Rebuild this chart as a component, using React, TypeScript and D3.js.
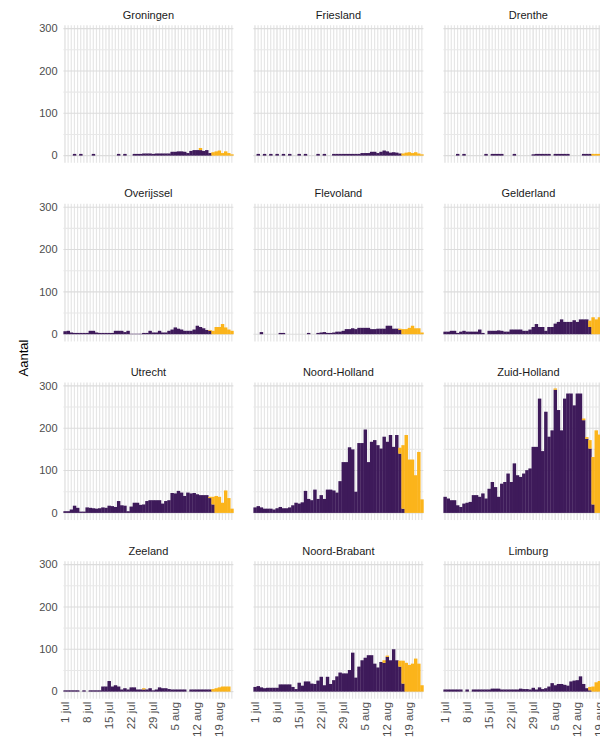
import React from 'react';
import * as d3 from 'd3';

// ---- data ----
const provinces = [
  'Groningen', 'Friesland', 'Drenthe',
  'Overijssel', 'Flevoland', 'Gelderland',
  'Utrecht', 'Noord-Holland', 'Zuid-Holland',
  'Zeeland', 'Noord-Brabant', 'Limburg',
];

const tickLabels = ['1 jul', '8 jul', '15 jul', '22 jul', '29 jul', '5 aug', '12 aug', '19 aug'];
const tickDays = [0, 7, 14, 21, 28, 35, 42, 49];
const yTicks = [0, 100, 200, 300];

const Z = (n: number) => new Array(n).fill(0);

const groningenP = [0,0,0,4,0,4,0,0,0,4, 0,0,0,0,0,0,0,4,0,4, 0,0,4,4,4,5,5,5,4,5, 5,5,5,5,9,9,10,10,9,6, 11,13,13,13,11,13,6,0,0,0, 0,0,0,0];
const groningenY = [...Z(43), 5,0,0,0, 8,10,12,6,10,6,3];

const frieslandP = [0,4,0,4,0,4,0,4,0,4, 0,4,0,0,4,0,4,0,0,0, 4,0,4,0,0,4,4,4,4,4, 4,4,4,4,6,6,6,9,9,6, 9,12,10,7,8,7,5,0,0,0, 0,0,0,0];
const frieslandY = [...Z(47), 5,7,8,6,8,5,3];

const drentheP = [0,0,0,0,4,0,4,0,0,0, 0,0,0,4,0,4,4,4,4,0, 0,0,4,0,0,0,0,0,3,4, 4,4,4,4,0,4,4,4,4,4, 0,0,0,0,4,4,4,0,0,0, 0,0,0,0];
const drentheY = [...Z(47), 4,4,4,4,4,4,4];

const overijsselP = [7,8,4,3,3,3,3,3,8,8, 4,3,3,3,3,3,8,8,8,5, 8,1,1,1,1,3,3,8,4,4, 8,4,4,8,11,16,13,11,8,8, 8,11,20,17,14,10,8,0,0,0, 0,0,0,0];
const overijsselY = [...Z(46), 2,8,17,17,24,16,11,8];

const flevolandP = [0,0,5,0,0,0,0,0,3,3, 0,0,0,0,0,0,0,3,0,0, 3,4,5,3,3,4,6,6,8,12, 12,14,12,15,15,15,15,12,12,13, 13,13,20,20,13,13,10,0,0,0, 0,0,0,0];
const flevolandY = [...Z(46), 3,12,12,15,20,14,14,4];

const gelderlandP = [6,6,8,8,3,6,8,6,6,6, 6,11,3,0,8,8,8,9,8,6, 6,11,11,11,11,8,8,11,17,24, 17,17,8,17,17,25,29,35,29,29, 29,33,29,35,35,35,17,0,0,0, 0,0,0,0];
const gelderlandY = [...Z(46), 15,40,35,40,30,25,30,15];

const utrechtP = [4,4,8,17,12,3,3,13,12,11, 10,11,13,12,17,16,14,28,18,17, 4,15,24,24,19,20,28,30,30,30, 30,22,28,30,47,46,52,48,40,48, 46,47,44,42,42,42,35,20,0,0, 0,0,0,0];
const utrechtY = [...Z(46), 3,18,40,38,24,53,35,10];

const noordHollandP = [13,16,13,10,10,10,8,11,14,11, 11,13,18,24,22,25,52,33,30,55, 33,42,33,55,55,53,48,75,120,120, 155,150,50,165,165,197,120,168,172,160, 152,180,168,184,156,184,140,10,0,0, 0,0,0,0];
const noordHollandY = [...Z(46), 14,150,184,126,126,89,144,32];

const zuidHollandP = [38,34,30,30,18,14,22,24,26,42, 42,38,46,34,57,73,61,38,69,73, 93,73,117,89,85,93,101,105,156,156, 270,146,239,180,195,291,243,195,270,282, 282,254,282,282,219,175,152,20,0,0, 0,0,0,0];
const zuidHollandY = [...Z(35), 3, ...Z(8), 4,4,20,112,195,185,150,120,100,40];

const zeelandP = [3,3,3,3,3,0,3,0,3,3, 3,3,12,12,25,12,15,12,5,8, 5,10,10,5,5,5,5,8,3,5, 10,8,8,6,5,5,5,5,5,0, 5,5,5,5,5,5,5,0,0,0, 0,0,0,0];
const zeelandY = [...Z(25), 3, ...Z(21), 6,8,10,12,12,12,0];

const noordBrabantP = [11,13,10,8,9,9,9,9,17,17, 17,17,11,6,21,14,24,24,19,18, 26,35,15,35,18,27,36,45,43,43, 51,92,33,59,74,80,86,86,66,57, 70,68,82,74,100,74,59,19,0,0, 0,0,0,0];
const noordBrabantY = [...Z(41), 6,3,0,0,0, 14,54,68,63,66,78,66,15];

const limburgP = [5,5,5,5,5,5,0,5,0,5, 5,5,5,5,5,7,7,7,5,5, 5,5,5,5,7,6,6,5,9,5, 10,6,8,12,20,15,18,18,16,14, 24,26,27,36,18,8,3,0,0,0, 0,0,0,0];
const limburgY = [...Z(46), 8,12,22,25,20,15,25,10];

const purpleSeries = [groningenP, frieslandP, drentheP, overijsselP, flevolandP, gelderlandP, utrechtP, noordHollandP, zuidHollandP, zeelandP, noordBrabantP, limburgP];
const yellowSeries = [groningenY, frieslandY, drentheY, overijsselY, flevolandY, gelderlandY, utrechtY, noordHollandY, zuidHollandY, zeelandY, noordBrabantY, limburgY];

// ---- layout ----
const W = 600, H = 739;
const colLeft = [63.4, 253.4, 443.4];
const panelW = 170;
const rowZero = [155.6, 334.2, 512.9, 691.6];
const unitPx = 127 / 300;
const PURPLE = '#3e1a5a';
const YELLOW = '#fbb41b';
const FONT = '"Liberation Sans", Arial, sans-serif';

const days = d3.range(54);

function Panel({ idx }: { idx: number }) {
  const col = idx % 3, row = Math.floor(idx / 3);
  const x = d3.scaleBand<number>().domain(days).range([colLeft[col], colLeft[col] + panelW]).padding(0);
  const z = rowZero[row];
  const y = d3.scaleLinear().domain([0, 300]).range([z, z - 300 * unitPx]);
  const top = y(308), bottom = y(-17);
  const P = purpleSeries[idx], Yv = yellowSeries[idx];
  const bw = x.bandwidth();
  const left = colLeft[col], right = colLeft[col] + panelW;
  return (
    <g>
      {days.map((d) => (
        <line key={'v' + d} x1={x(d)! + bw / 2} x2={x(d)! + bw / 2} y1={top} y2={bottom}
          stroke={tickDays.includes(d) ? '#dedede' : '#e6e6e6'} strokeWidth={1.2} />
      ))}
      {d3.range(0, 301, 50).map((v) => (
        <line key={'h' + v} x1={left} x2={right} y1={y(v)} y2={y(v)}
          stroke={v % 100 === 0 ? '#dcdcdc' : '#e8e8e8'} strokeWidth={1.1} />
      ))}
      {days.map((d) => {
        const p = P[d] || 0, q = Yv[d] || 0;
        return (
          <g key={'b' + d}>
            {p > 0 && <rect x={x(d)!} width={bw + 0.3} y={y(p)} height={y(0) - y(p)} fill={PURPLE} />}
            {q > 0 && <rect x={x(d)!} width={bw + 0.3} y={y(p + q)} height={y(p) - y(p + q)} fill={YELLOW} />}
          </g>
        );
      })}
      <text x={(left + right) / 2} y={z - 137} textAnchor="middle" fontSize={11} fill="#1a1a1a" fontFamily={FONT}>
        {provinces[idx]}
      </text>
      {col === 0 && yTicks.map((t) => (
        <text key={'yt' + t} x={57.5} y={y(t)} dy="0.35em" textAnchor="end" fontSize={11} fill="#4d4d4d" fontFamily={FONT}>{t}</text>
      ))}
      {row === 3 && tickDays.map((d, i) => (
        <text key={'xt' + d} transform={`translate(${x(d)! + bw / 2},${bottom + 3}) rotate(-90)`} dy="0.35em"
          textAnchor="end" fontSize={11.5} fill="#4d4d4d" fontFamily={FONT}>{tickLabels[i]}</text>
      ))}
    </g>
  );
}

export default function App() {
  return (
    <div style={{ position: 'absolute', left: 0, top: 0, width: W, height: H, background: '#fff' }}>
      <svg width={W} height={H} style={{ display: 'block' }}>
        <rect width={W} height={H} fill="#fff" />
        {provinces.map((_, i) => <Panel key={i} idx={i} />)}
        <text transform={`translate(28,358) rotate(-90)`} textAnchor="middle" fontSize={13} fill="#000" fontFamily={FONT}>Aantal</text>
      </svg>
    </div>
  );
}
